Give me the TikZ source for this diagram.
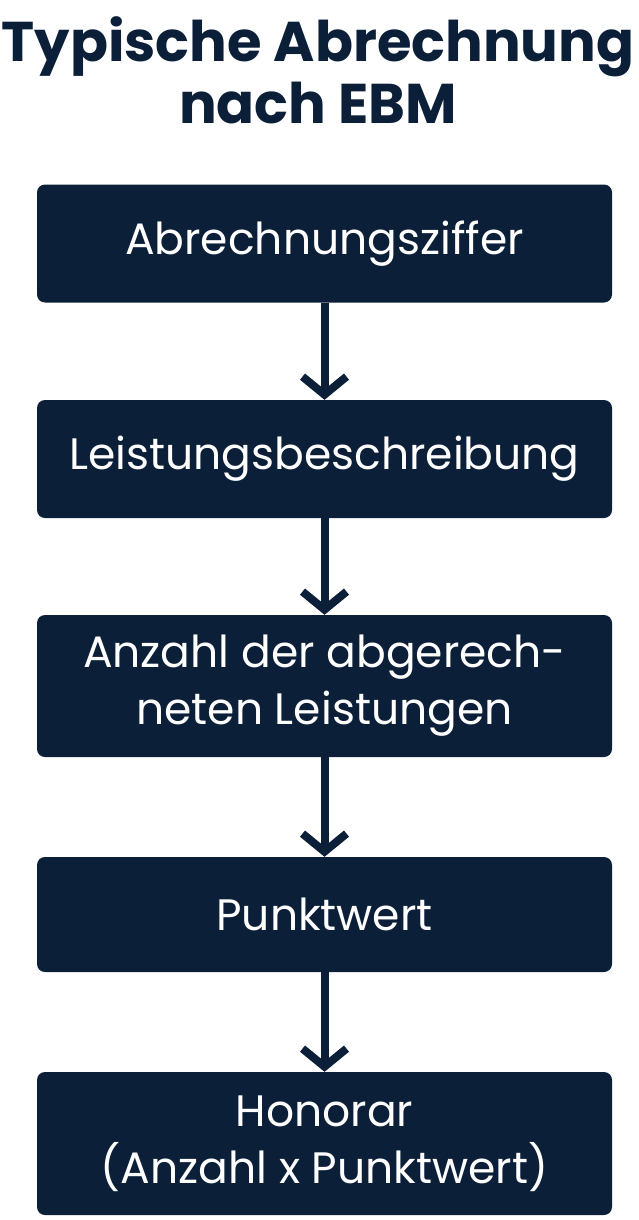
\documentclass[tikz,border=0pt]{standalone}
\usepackage{fontspec}
\setmainfont{Poppins}
\usetikzlibrary{arrows.meta}
\definecolor{navy}{HTML}{0C1F38}
\tikzset{
  box/.style={fill=navy,rounded corners=8pt,text=white,minimum width=575pt,align=center,font=\fontsize{44}{57}\selectfont,inner sep=0pt},
  conn/.style={navy,line width=8pt,-{Straight Barb[length=18pt,width=44pt,line width=8pt]}}
}
\begin{document}
\begin{tikzpicture}[x=1pt,y=-1pt]
\useasboundingbox (0,0) rectangle (638,1220);
\node[text=navy,font=\bfseries\fontsize{56}{62}\selectfont,align=center] (title) at (318,70) {Typische Abrechnung\\nach EBM};
\node[box,minimum height=118pt] (b1) at (324.5,243.5) {Abrechnungsziffer};
\node[box,minimum height=118pt] (b2) at (324.5,459) {Leistungsbeschreibung};
\node[box,minimum height=142pt] (b3) at (324.5,686) {Anzahl der abgerech-\\neten Leistungen};
\node[box,minimum height=115pt] (b4) at (324.5,914.5) {Punktwert};
\node[box,minimum height=143pt] (b5) at (324.5,1143.5) {Honorar\\(Anzahl x Punktwert)};
\draw[conn] (b1) -- (b2);
\draw[conn] (b2) -- (b3);
\draw[conn] (b3) -- (b4);
\draw[conn] (b4) -- (b5);
\end{tikzpicture}
\end{document}
